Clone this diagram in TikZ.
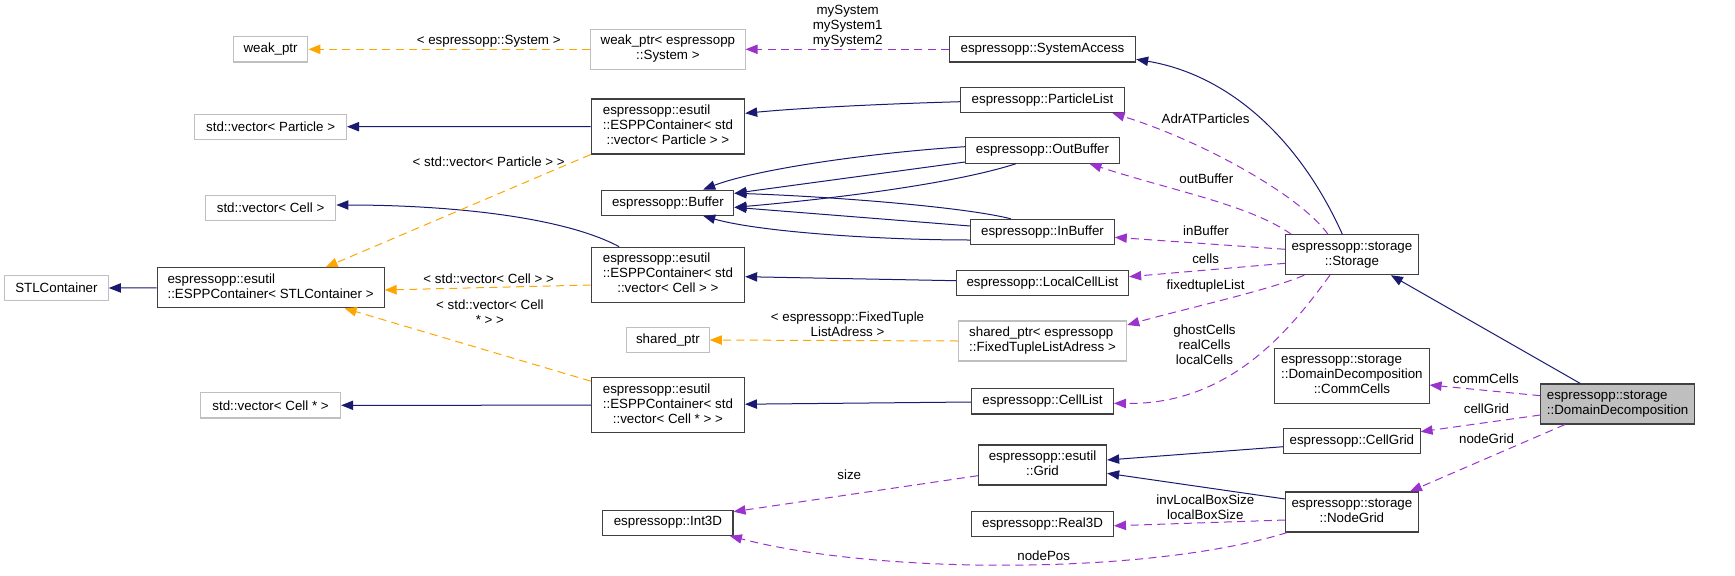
\documentclass[tikz,border=0pt]{standalone}
\usepackage{fontspec}
\setmainfont{Liberation Sans}
\usetikzlibrary{arrows.meta,calc}
\definecolor{navy}{HTML}{191970}
\definecolor{orch}{HTML}{9A32CD}
\definecolor{orng}{HTML}{FFA500}
\definecolor{boxdark}{HTML}{404040}
\definecolor{boxlight}{HTML}{BFBFBF}
\newcommand{\mlines}[1]{\begin{tabular}{@{}l@{}}#1\end{tabular}}
\newcommand{\lastc}[1]{\multicolumn{1}{@{}c@{}}{#1}}
\begin{document}
\begin{tikzpicture}[x=0.75pt,y=-0.75pt,
  font=\fontsize{10}{11.25}\selectfont,
  cls/.style={draw=boxdark, line width=0.8pt, fill=white, inner sep=0pt, minimum height=19pt},
  ext/.style={cls, draw=boxlight},
  two/.style={minimum height=30pt},
  three/.style={minimum height=41.25pt},
  inh/.style={draw=navy, line width=0.75pt, -{Triangle[length=9pt,width=7pt]}},
  use/.style={draw=orch, line width=0.75pt, dash pattern=on 6pt off 4pt, -{Triangle[length=9pt,width=7pt]}},
  tpl/.style={use, draw=orng},
  lbl/.style={inner sep=0pt, align=center},
]
\useasboundingbox (0,0) rectangle (1735,575);

% nodes
\node[ext, minimum width=56pt] (wp) at (270.6,49.3) {weak\_ptr};
\node[ext, two, minimum width=115.7pt] (wps) at (667.9,49.3) {\mlines{weak\_ptr< espressopp\\\lastc{::System >}}};
\node[cls, minimum width=139.7pt] (sa) at (1042.5,49.3) {espressopp::SystemAccess};
\node[ext, minimum width=113.9pt] (vp) at (270.6,126.7) {std::vector< Particle >};
\node[cls, three, minimum width=115.1pt] (ecp) at (667.9,126.5) {\mlines{espressopp::esutil\\::ESPPContainer< std\\\lastc{::vector< Particle > >}}};
\node[cls, minimum width=122.6pt] (pl) at (1042.5,100) {espressopp::ParticleList};
\node[cls, minimum width=115.4pt] (ob) at (1042.5,150.5) {espressopp::OutBuffer};
\node[cls, minimum width=99pt] (buf) at (667.9,202.7) {espressopp::Buffer};
\node[cls, minimum width=107.6pt] (ib) at (1042.5,232) {espressopp::InBuffer};
\node[ext, minimum width=97.9pt] (vc) at (270.6,208) {std::vector< Cell >};
\node[cls, two, minimum width=170.3pt] (ecs) at (270.6,287.8) {\mlines{espressopp::esutil\\::ESPPContainer< STLContainer >}};
\node[ext, minimum width=77.8pt] (stl) at (56.4,288) {STLContainer};
\node[cls, three, minimum width=115.1pt] (ecc) at (667.9,274.7) {\mlines{espressopp::esutil\\::ESPPContainer< std\\\lastc{::vector< Cell > >}}};
\node[cls, minimum width=129.2pt] (lcl) at (1042.5,282.7) {espressopp::LocalCellList};
\node[cls, two, minimum width=99.3pt] (st) at (1351.9,254.7) {\mlines{espressopp::storage\\\lastc{::Storage}}};
\node[ext, minimum width=62pt] (shp) at (667.9,340) {shared\_ptr};
\node[ext, two, minimum width=126.3pt] (ftl) at (1042.5,341) {\mlines{shared\_ptr< espressopp\\::FixedTupleListAdress >}};
\node[cls, three, minimum width=114.8pt] (ecx) at (667.9,405.2) {\mlines{espressopp::esutil\\::ESPPContainer< std\\\lastc{::vector< Cell * > >}}};
\node[cls, minimum width=106.4pt] (cl) at (1042.5,401.3) {espressopp::CellList};
\node[ext, minimum width=105.1pt] (vcs) at (270.6,405.3) {std::vector< Cell * >};
\node[cls, three, minimum width=115.7pt] (cc) at (1351.9,375.8) {\mlines{espressopp::storage\\::DomainDecomposition\\\lastc{::CommCells}}};
\node[cls, two, fill=boxlight, minimum width=115.1pt] (dd) at (1617.6,404) {\mlines{espressopp::storage\\::DomainDecomposition}};
\node[cls, minimum width=102.2pt] (cg) at (1351.9,441.2) {espressopp::CellGrid};
\node[cls, two, minimum width=96.2pt] (gr) at (1042.5,465) {\mlines{espressopp::esutil\\\lastc{::Grid}}};
\node[cls, two, minimum width=99.3pt] (ng) at (1351.9,512) {\mlines{espressopp::storage\\\lastc{::NodeGrid}}};
\node[cls, minimum width=97.6pt] (i3) at (667.9,522.7) {espressopp::Int3D};
\node[cls, minimum width=106.4pt] (r3) at (1042.5,523.8) {espressopp::Real3D};

% inheritance (navy)
\draw[inh] (ecs.west) -- (stl.east);
\draw[inh] (ecp.west) -- (vp.east);
\draw[inh] ($(pl.west)+(0,1.7)$) .. controls (880,104) and (800,108) .. ($(ecp.east)+(0,-13.2)$);
\draw[inh] ($(ob.west)+(0,-3.8)$) .. controls (880,152) and (760,168) .. ($(buf.north)+(35.3,0)$);
\draw[inh] ($(ob.west)+(0,11.5)$) -- ($(buf.east)+(0,-9.4)$);
\draw[inh] ($(ob.south)+(-26.5,0)$) .. controls (950,185) and (820,200) .. ($(buf.east)+(0,4.6)$);
\draw[inh] ($(ib.north)+(-31.6,0)$) .. controls (960,206) and (820,196) .. ($(buf.east)+(0,-9.4)$);
\draw[inh] ($(ib.west)+(0,-6)$) -- ($(buf.east)+(0,4.6)$);
\draw[inh] ($(ib.west)+(0,8)$) .. controls (880,240) and (760,232) .. ($(buf.south)+(35.3,0)$);
\draw[inh] ($(lcl.west)+(0,-2)$) -- ($(ecc.east)+(0,2)$);
\draw[inh] ($(ecc.north)+(-48.8,0)$) .. controls (560,215) and (440,205) .. ($(vc.east)+(0,-3)$);
\draw[inh] ($(cl.west)+(0,0.7)$) -- ($(ecx.east)+(0,-1)$);
\draw[inh] (ecx.west) -- (vcs.east);
\draw[inh] ($(st.north)+(-9.6,0)$) .. controls (1300,140) and (1230,75) .. ($(sa.east)+(0,10)$);
\draw[inh] ($(dd.north)+(-37.3,0)$) -- ($(st.south)+(39,0)$);
\draw[inh] ($(cg.west)+(0,5.5)$) -- ($(gr.east)+(0,-5)$);
\draw[inh] ($(ng.west)+(0,-13)$) -- ($(gr.east)+(0,8.3)$);

% usage (purple dashed)
\draw[use] (sa.west) -- (wps.east);
\draw[use] ($(st.north)+(-24,0)$) .. controls (1300,195) and (1200,140) .. ($(pl.south)+(70,0)$);
\draw[use] ($(st.north west)+(6,0)$) .. controls (1250,205) and (1170,190) .. ($(ob.south)+(47,0)$);
\draw[use] ($(st.west)+(0,-5.4)$) -- ($(ib.east)+(0,5.3)$);
\draw[use] ($(st.west)+(0,8.6)$) -- ($(lcl.east)+(0,-6)$);
\draw[use] ($(st.south west)+(19,0)$) .. controls (1270,290) and (1180,310) .. ($(ftl.east)+(0,-16)$);
\draw[use] ($(st.south)+(-22,0)$) .. controls (1290,330) and (1230,405) .. ($(cl.east)+(0,2)$);
\draw[use] ($(dd.west)+(0,-8.3)$) -- ($(cc.east)+(0,9.2)$);
\draw[use] ($(dd.west)+(0,11)$) -- ($(cg.east)+(0,-9.5)$);
\draw[use] ($(dd.south)+(-52.6,0)$) -- ($(ng.north)+(58,0)$);
\draw[use] ($(ng.west)+(0,8)$) -- ($(r3.east)+(0,2)$);
\draw[use] ($(gr.west)+(0,10.7)$) -- ($(i3.east)+(0,-11)$);
\draw[use] ($(ng.south west)+(2,0)$) .. controls (1150,575) and (880,575) .. ($(i3.south)+(62,0)$);

% template (orange dashed)
\draw[tpl] (wps.west) -- (wp.east);
\draw[tpl] (ecp.south west) -- ($(ecs.north)+(55,0)$);
\draw[tpl] ($(ecc.west)+(0,10.3)$) -- ($(ecs.east)+(0,2.2)$);
\draw[tpl] ($(ecx.north west)+(0,4)$) -- ($(ecs.south)+(74,0)$);
\draw[tpl] (ftl.west) -- (shp.east);

% labels
\node[lbl] (l1) at (847.7,26.3) {mySystem\\mySystem1\\mySystem2};
\node[lbl] (l2) at (488.7,41) {< espressopp::System >};
\node[lbl] (l3) at (488.7,161.3) {< std::vector< Particle > >};
\node[lbl] (l4) at (488.7,278.7) {< std::vector< Cell > >};
\node[lbl] (l5) at (489.9,312) {< std::vector< Cell\\* > >};
\node[lbl] (l6) at (847.5,324.2) {< espressopp::FixedTuple\\ListAdress >};
\node[lbl] (l7) at (1205.6,118.3) {AdrATParticles};
\node[lbl] (l8) at (1206.4,178.3) {outBuffer};
\node[lbl] (l9) at (1206,231) {inBuffer};
\node[lbl] (l10) at (1205.6,258.7) {cells};
\node[lbl] (l11) at (1205.6,286) {fixedtupleList};
\node[lbl] (l12) at (1204.5,344.3) {ghostCells\\realCells\\localCells};
\node[lbl] (l13) at (1485.8,378.7) {commCells};
\node[lbl] (l14) at (1486.5,408.3) {cellGrid};
\node[lbl] (l15) at (1486.5,438.3) {nodeGrid};
\node[lbl] (l16) at (1205.3,506.8) {invLocalBoxSize\\localBoxSize};
\node[lbl] (l17) at (849.3,474.7) {size};
\node[lbl] (l18) at (1043.7,555.7) {nodePos};
\end{tikzpicture}
\end{document}
